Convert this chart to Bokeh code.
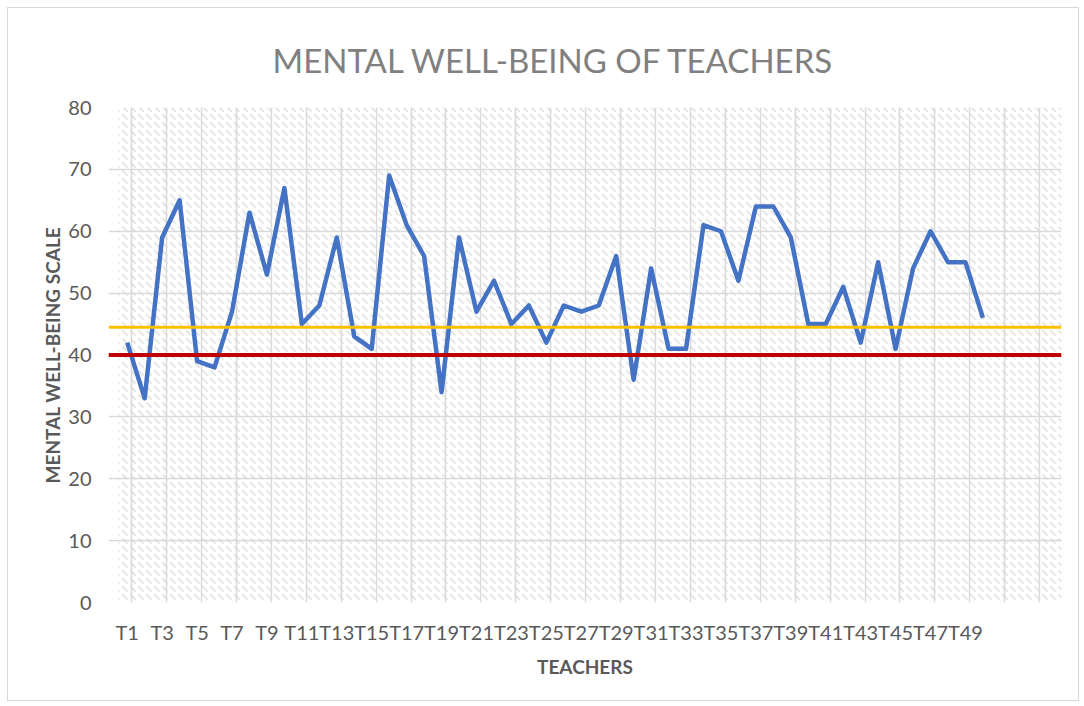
from bokeh.plotting import figure
from bokeh.models import FixedTicker, Span, Range1d
from bokeh.embed import file_html
from bokeh.resources import INLINE

# ---- data ----
teachers = [f"T{i}" for i in range(1, 51)]
scores = [42, 33, 59, 65, 39, 38, 47, 63, 53, 67,
          45, 48, 59, 43, 41, 69, 61, 56, 34, 59,
          47, 52, 45, 48, 42, 48, 47, 48, 56, 36,
          54, 41, 41, 61, 60, 52, 64, 64, 59, 45,
          45, 51, 42, 55, 41, 54, 60, 55, 55, 46]
lower_cutoff = 40      # red line
upper_cutoff = 44.5    # orange line
y_ticks = [0, 10, 20, 30, 40, 50, 60, 70, 80]
n_slots = 54           # category slots on the axis (last ones empty)
chart_title = "MENTAL WELL-BEING OF TEACHERS"

xs = list(range(1, len(teachers) + 1))

FONT = "Lato"
GRID = "#d9d9d9"
TXT = "#595959"

p = figure(width=1072, height=694, output_backend="svg", toolbar_location=None,
           x_range=Range1d(0.5 - 10 / 17.46, n_slots + 0.5),
           y_range=Range1d(0, 80),
           min_border_left=100, min_border_right=19,
           min_border_top=99, min_border_bottom=100)
p.styles = {"border": "1px solid #d9d9d9", "margin-left": "7px", "margin-top": "7px"}
p.outline_line_color = None
p.background_fill_color = "white"
p.border_fill_color = "white"

# hatched plot area
bg = p.quad(left=0.5, right=n_slots + 0.5, bottom=0, top=80,
            fill_color="white", line_color=None,
            hatch_pattern="left_diagonal_dash", hatch_color="#d0d0d0",
            hatch_scale=8, hatch_weight=1.5, hatch_alpha=0.7)
bg.level = "image"

# title
p.title.text = chart_title
p.title.align = "left"
p.title.vertical_align = "top"
p.title.text_font = FONT
p.title.text_font_size = "33px"
p.title.text_font_style = "normal"
p.title.text_color = "#808080"
p.title.offset = 164
p.title.standoff = 52

# axes
p.xaxis.ticker = FixedTicker(ticks=xs[::2])
p.xaxis.major_label_overrides = {x: t for x, t in zip(xs, teachers)}
p.yaxis.ticker = FixedTicker(ticks=y_ticks)
for ax in (p.xaxis[0], p.yaxis[0]):
    ax.axis_line_color = None
    ax.major_tick_line_color = None
    ax.minor_tick_line_color = None
    ax.major_label_text_font = FONT
    ax.major_label_text_font_size = "20px"
    ax.major_label_text_color = TXT
    ax.axis_label_text_font = FONT
    ax.axis_label_text_font_size = "19px"
    ax.axis_label_text_font_style = "bold"
    ax.axis_label_text_color = TXT
p.xaxis.axis_label = "TEACHERS"
p.yaxis.axis_label = "MENTAL WELL-BEING SCALE"
p.xaxis.major_label_standoff = 11
p.xaxis.axis_label_standoff = 8
p.yaxis.major_label_standoff = 11
p.yaxis.axis_label_standoff = 1

# grids
p.ygrid.ticker = FixedTicker(ticks=y_ticks)
p.ygrid.grid_line_color = GRID
p.ygrid.grid_line_width = 1.5
p.xgrid.ticker = FixedTicker(ticks=[1.25 + 2 * k for k in range(n_slots // 2)] + [n_slots + 0.5])
p.xgrid.grid_line_color = GRID
p.xgrid.grid_line_width = 1.5

# series
p.line(xs, scores, line_color="#4472c4", line_width=4.5, line_join="round")

p.add_layout(Span(location=upper_cutoff, dimension="width", line_color="#ffc000",
                  line_width=3, level="overlay"))
p.add_layout(Span(location=lower_cutoff, dimension="width", line_color="#c00000",
                  line_width=4, level="overlay"))

open("out.html", "w").write(file_html(p, INLINE))
